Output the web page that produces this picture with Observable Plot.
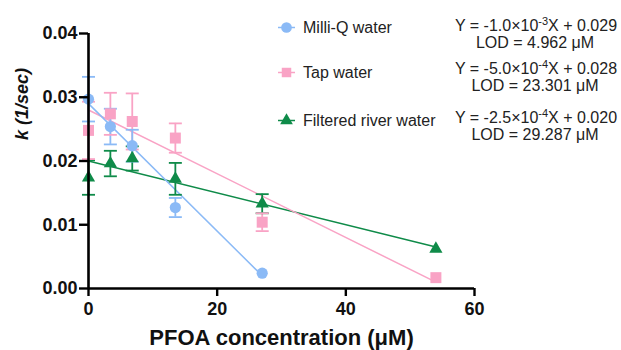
<!DOCTYPE html>
<html>
<head>
<meta charset="utf-8">
<script src="https://cdn.jsdelivr.net/npm/d3@7"></script>
<script src="https://cdn.jsdelivr.net/npm/@observablehq/plot@0.6"></script>
<style>
  html, body { margin: 0; padding: 0; background: #fff; }
  #wrap { position: relative; width: 621px; height: 350px; font-family: "Liberation Sans", Arial, sans-serif; }
  #wrap svg.plot { position: absolute; left: 0; top: 0; }
  .leg { position: absolute; font-size: 16px; color: #222; white-space: nowrap; line-height: 17px; }
  .leg svg { position: absolute; left: 0; top: 0; }
  .eq { position: absolute; left: 455px; width: 160px; text-align: center; font-size: 16px; line-height: 17px; color: #222; white-space: nowrap; }
  .eq sup { font-size: 11px; line-height: 0; vertical-align: 6px; }
</style>
</head>
<body>
<div id="wrap"></div>
<script>
// ---- data ----
const series = ["Milli-Q water", "Tap water", "Filtered river water"];
const colors = ["#8bbaf6", "#f9a3c5", "#0f8b49"];
const symbols = ["circle", "square", "triangle"];

const concMilliQ = [0, 3.4, 6.8, 13.5, 27];
const kMilliQ    = [0.0297, 0.0254, 0.0224, 0.0127, 0.0024];
const errMilliQ  = [0.0035, 0.0028, 0.0025, 0.0015, 0];

const concTap = [0, 3.4, 6.8, 13.5, 27, 54];
const kTap    = [0.0248, 0.0274, 0.0262, 0.0236, 0.0104, 0.0017];
const errTap  = [0.0045, 0.0033, 0.0044, 0.0023, 0.0014, 0];

const concRiver = [0, 3.4, 6.8, 13.5, 27, 54];
const kRiver    = [0.0174, 0.0196, 0.0204, 0.0172, 0.0133, 0.0062];
const errRiver  = [0.0027, 0.0020, 0.0019, 0.0025, 0.0015, 0];

const fitSlopes     = [-1.0e-3, -5.0e-4, -2.5e-4];
const fitIntercepts = [0.029, 0.028, 0.020];
const eqMantissa = ["-1.0", "-5.0", "-2.5"];
const eqExponent = ["-3", "-4", "-4"];
const eqIntercept = ["0.029", "0.028", "0.020"];
const lodValues = ["4.962", "23.301", "29.287"];

const xTicks = [0, 20, 40, 60];
const yTicks = [0, 0.01, 0.02, 0.03, 0.04];
const xLabel = "PFOA concentration (μM)";
const yLabel = "k (1/sec)";

// ---- build tables ----
const groups = [
  {s: series[0], conc: concMilliQ, k: kMilliQ, err: errMilliQ, i: 0},
  {s: series[1], conc: concTap, k: kTap, err: errTap, i: 1},
  {s: series[2], conc: concRiver, k: kRiver, err: errRiver, i: 2}
];
const drawOrder = [groups[2], groups[1], groups[0]];
const points = drawOrder.flatMap(g => g.conc.map((x, j) => ({series: g.s, x, k: g.k[j], err: g.err[j]})));
const bars = points.filter(d => d.err > 0);
const caps = bars.flatMap(d => [{series: d.series, x: d.x, y: d.k + d.err}, {series: d.series, x: d.x, y: d.k - d.err}]);
const fits = drawOrder.flatMap(g => {
  const xmax = d3.max(g.conc);
  return [0, xmax].map(x => ({series: g.s, x, y: fitIntercepts[g.i] + fitSlopes[g.i] * x}));
});

const capSymbol = { draw(ctx, size) { const w = 6.5; ctx.moveTo(-w, 0); ctx.lineTo(w, 0); } };
const symbolR = {circle: 5.6, square: 6.2, triangle: 4.9};

const chart = Plot.plot({
  width: 621,
  height: 350,
  marginLeft: 88,
  marginRight: 147,
  marginTop: 33,
  marginBottom: 62,
  style: {fontFamily: "'Liberation Sans', Arial, sans-serif", background: "transparent"},
  x: {domain: [0, 60]},
  y: {domain: [0, 0.04]},
  color: {domain: series, range: colors},
  symbol: {domain: series, range: symbols},
  marks: [
    Plot.line(fits, {x: "x", y: "y", z: "series", stroke: "series", strokeWidth: 1.5}),
    Plot.ruleX(bars, {x: "x", y1: d => d.k - d.err, y2: d => d.k + d.err, stroke: "series", strokeWidth: 1.8}),
    Plot.dot(caps, {x: "x", y: "y", symbol: capSymbol, stroke: "series", fill: "none", strokeWidth: 1.8}),
    ...drawOrder.map(g => Plot.dot(points.filter(d => d.series === g.s), {x: "x", y: "k", symbol: "series", fill: "series", stroke: "none", r: symbolR[symbols[g.i]]})),
    Plot.ruleX([0], {stroke: "#000", strokeWidth: 2.6}),
    Plot.ruleY([0], {stroke: "#000", strokeWidth: 2.6}),
    Plot.axisY({ticks: yTicks, tickFormat: d3.format(".2f"), tickSize: 9, tickPadding: 2, strokeWidth: 2.4, stroke: "#000", strokeOpacity: 1, fill: "#111", fontSize: 18, fontWeight: "bold", label: null}),
    Plot.axisX({ticks: xTicks, tickFormat: d3.format("d"), tickSize: 8, tickPadding: 6, strokeWidth: 2.4, stroke: "#000", strokeOpacity: 1, fill: "#111", fontSize: 18, fontWeight: "bold", label: null}),
    Plot.text([yLabel], {frameAnchor: "left", rotate: -90, dx: -66, dy: -21, fontSize: 18, fontWeight: "bold", fontStyle: "italic", lineAnchor: "middle", fill: "#111"}),
    Plot.text([xLabel], {frameAnchor: "bottom", dy: 49, fontSize: 22, fontWeight: "bold", lineAnchor: "middle", fill: "#111"})
  ]
});
chart.classList.add("plot");
const wrap = document.getElementById("wrap");
wrap.appendChild(chart);

// ---- legend (HTML overlay) ----
const legendY = [27, 72, 120];
series.forEach((s, i) => {
  const div = document.createElement("div");
  div.className = "leg";
  div.style.left = "276px";
  div.style.top = (legendY[i] - 8.5) + "px";
  const sym = d3.symbol(d3["symbol" + symbols[i][0].toUpperCase() + symbols[i].slice(1)], symbols[i] === "triangle" ? 70 : 90)();
  div.innerHTML = `<svg width="22" height="17"><line x1="2" x2="19" y1="8.5" y2="8.5" stroke="${colors[i]}" stroke-width="1.5"/><path d="${sym}" transform="translate(10.5,8.5)" fill="${colors[i]}"/></svg><span style="padding-left:27px">${s}</span>`;
  wrap.appendChild(div);
});

// ---- equations ----
const eqTop = [25, 68, 117];
series.forEach((s, i) => {
  const div = document.createElement("div");
  div.className = "eq";
  div.style.top = (eqTop[i] - 8.5) + "px";
  div.innerHTML = `Y = ${eqMantissa[i]}×10<sup>${eqExponent[i]}</sup>X + ${eqIntercept[i]}<br>LOD = ${lodValues[i]} μM`;
  wrap.appendChild(div);
});
</script>
</body>
</html>
